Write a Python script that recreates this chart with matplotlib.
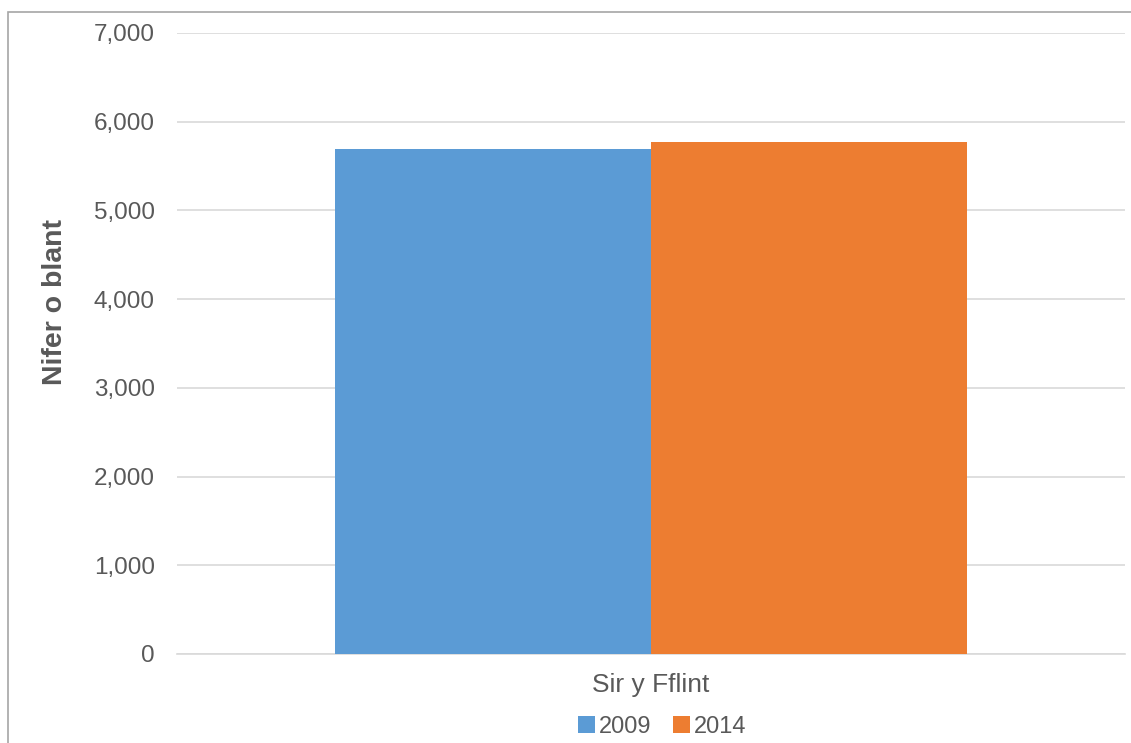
import matplotlib
matplotlib.use("Agg")
import matplotlib.pyplot as plt
from matplotlib.patches import Rectangle
from matplotlib.ticker import FuncFormatter, MultipleLocator

# data
categories = ["Sir y Fflint"]
years = ["2009", "2014"]
values_2009 = [5690]
values_2014 = [5770]
colors = ["#5b9bd5", "#ed7d31"]

plt.rcParams["font.family"] = ["Liberation Sans", "DejaVu Sans"]
grey = "#595959"

fig = plt.figure(figsize=(11.31, 7.43), dpi=100)
ax = fig.add_axes([0.1565, 0.1198, 0.8382, 0.8358])

# outer chart border (left and top visible, runs off the right/bottom)
fig.patches.append(Rectangle((8 / 1131, -0.01), 1.05, 1 - 12 / 743 + 0.01,
                             transform=fig.transFigure, fill=False,
                             edgecolor="#a6a6a6", linewidth=1.2))

w = 1 / 3
x = list(range(len(categories)))
ax.bar([i - w / 2 for i in x], values_2009, width=w, color=colors[0], label=years[0], zorder=3)
ax.bar([i + w / 2 for i in x], values_2014, width=w, color=colors[1], label=years[1], zorder=3)

ax.set_xlim(-0.5, 0.5)
ax.set_ylim(0, 7000)
ax.yaxis.set_major_locator(MultipleLocator(1000))
ax.yaxis.set_major_formatter(FuncFormatter(lambda v, p: f"{int(v):,}"))
ax.set_xticks(x)
ax.set_xticklabels(categories)
ax.tick_params(axis="y", length=0, pad=16, labelsize=17.5, labelcolor=grey)
ax.tick_params(axis="x", length=0, pad=14, labelsize=19, labelcolor=grey)
ax.grid(axis="y", color="#d9d9d9", linewidth=1.2, zorder=0)
for s in ["top", "right", "left"]:
    ax.spines[s].set_visible(False)
ax.spines["bottom"].set_color("#d9d9d9")
ax.spines["bottom"].set_linewidth(1.2)

ax.set_ylabel("Nifer o blant", fontsize=20.5, fontweight="bold", color=grey)
ax.yaxis.set_label_coords(-0.1146, 0.567)

ax.legend(loc="center", bbox_to_anchor=(0.512, -0.117), ncol=2, frameon=False,
          fontsize=17, labelcolor=grey, handlelength=0.7, handleheight=0.7,
          handletextpad=0.2, columnspacing=0.9)

plt.savefig("out.png", dpi=100)
